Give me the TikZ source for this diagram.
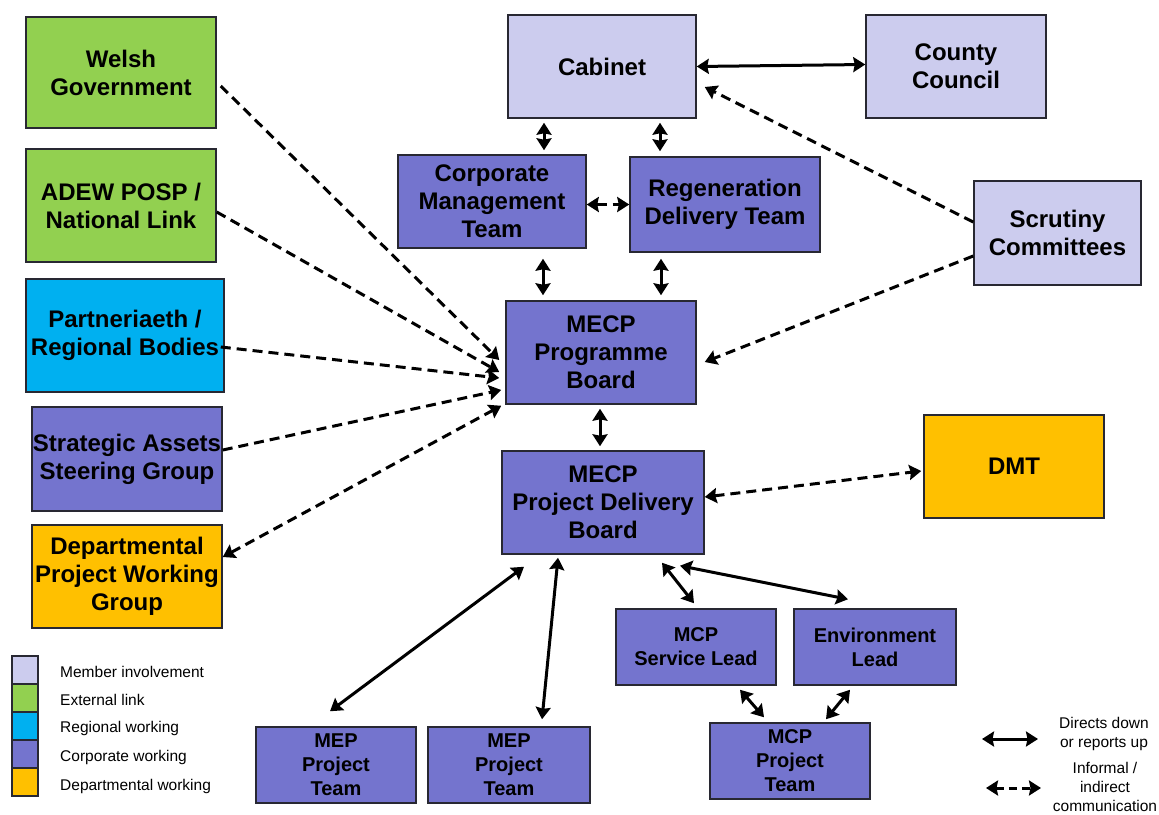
\documentclass[tikz,border=0pt]{standalone}
\usepackage{fontspec}
\setmainfont{Liberation Sans}
\usetikzlibrary{arrows.meta}
\definecolor{lav}{RGB}{204,204,238}
\definecolor{grn}{RGB}{146,208,80}
\definecolor{blu}{RGB}{0,176,240}
\definecolor{pur}{RGB}{116,116,206}
\definecolor{org}{RGB}{255,192,0}
\definecolor{edge}{RGB}{40,40,50}
\tikzset{
  box/.style={draw=edge, line width=1.5pt, inner sep=0pt, align=center,
    font=\fontsize{24}{28}\selectfont\bfseries},
  sbox/.style={box, font=\fontsize{20}{24}\selectfont\bfseries},
  tip/.style={},
  direct/.style={line width=3pt, {Stealth[length=12pt,width=15pt,inset=1.5pt]}-{Stealth[length=12pt,width=15pt,inset=1.5pt]}},
  informal/.style={line width=3pt, dash pattern=on 10pt off 6pt, -{Stealth[length=12pt,width=15pt,inset=1.5pt]}},
  informal2/.style={informal, {Stealth[length=12pt,width=15pt,inset=1.5pt]}-{Stealth[length=12pt,width=15pt,inset=1.5pt]}},
  key/.style={draw=edge, line width=1.5pt, minimum width=26pt, minimum height=28pt, inner sep=0pt},
  keytext/.style={anchor=west, inner sep=0pt, font=\fontsize{15.5}{18}\selectfont},
  keyr/.style={align=center, inner sep=0pt, font=\fontsize{15.5}{19}\selectfont}
}
\begin{document}
\begin{tikzpicture}[x=1pt,y=-1pt]
\useasboundingbox[fill=white] (0,0) rectangle (1159,814);
% left column
\node[box, fill=grn, minimum width=190pt, minimum height=111pt] (wg) at (121,72.5) {Welsh\\Government};
\node[box, fill=grn, minimum width=190pt, minimum height=113pt] (adew) at (121,205.5) {ADEW POSP /\\National Link};
\node[box, fill=blu, minimum width=198pt, minimum height=113pt] (part) at (125,335.5) {Partneriaeth /\\Regional Bodies};
\node[box, fill=pur, minimum width=190pt, minimum height=104pt] (sa) at (127,459) {Strategic Assets\\Steering Group};
\node[box, fill=org, minimum width=190pt, minimum height=103pt] (dpwg) at (127,576.5) {Departmental\\Project Working\\Group};
% top
\node[box, fill=lav, minimum width=188pt, minimum height=103pt] (cab) at (602,66.5) {Cabinet};
\node[box, fill=lav, minimum width=180pt, minimum height=103pt] (cc) at (956,66.5) {County\\Council};
\node[box, fill=pur, minimum width=188pt, minimum height=93pt] (cmt) at (492,201.5) {Corporate\\Management\\Team};
\node[box, fill=pur, minimum width=190pt, minimum height=95pt] (rdt) at (725,204.5) {Regeneration\\Delivery Team};
\node[box, fill=lav, minimum width=167pt, minimum height=104pt] (scr) at (1057.5,233) {Scrutiny\\Committees};
\node[box, fill=pur, minimum width=190pt, minimum height=103pt] (pb) at (601,352.5) {MECP\\Programme\\Board};
\node[box, fill=pur, minimum width=202pt, minimum height=103pt] (pdb) at (603,502.5) {MECP\\Project Delivery\\Board};
\node[box, fill=org, minimum width=180pt, minimum height=103pt] (dmt) at (1014,466.5) {DMT};
% bottom
\node[sbox, fill=pur, minimum width=160pt, minimum height=76pt] (sl) at (696,647) {MCP\\Service Lead};
\node[sbox, fill=pur, minimum width=162pt, minimum height=76pt] (env) at (875,647) {Environment\\Lead};
\node[sbox, fill=pur, minimum width=160pt, minimum height=76pt] (mep1) at (336,765) {MEP\\Project\\Team};
\node[sbox, fill=pur, minimum width=162pt, minimum height=76pt] (mep2) at (509,765) {MEP\\Project\\Team};
\node[sbox, fill=pur, minimum width=160pt, minimum height=76pt] (mcppt) at (790,761) {MCP\\Project\\Team};
% connectors
\draw[direct] (cab.east) -- ([yshift=2pt]cc.west);
\draw[direct] ([xshift=-58pt,yshift=-4pt]cab.south) -- ([xshift=52pt,yshift=4pt]cmt.north);
\draw[direct] ([xshift=58pt,yshift=-4pt]cab.south) -- ([xshift=-65pt,yshift=5pt]rdt.north);
\draw[informal2] ([yshift=-3pt]cmt.east) -- (rdt.west);
\draw[direct] ([xshift=51pt,yshift=-10pt]cmt.south) -- ([xshift=-58pt,yshift=5pt]pb.north);
\draw[direct] ([xshift=-64pt,yshift=-6pt]rdt.south) -- ([xshift=60pt,yshift=5pt]pb.north);
\draw[informal] ([yshift=11pt]scr.west) -- ([xshift=8pt,yshift=-20.5pt]cab.east);
\draw[informal] ([yshift=-23pt]scr.west) -- ([xshift=8pt,yshift=-9.5pt]pb.east);
\draw[informal] ([xshift=4pt,yshift=-13.5pt]wg.east) -- ([xshift=-6pt,yshift=-7.5pt]pb.west);
\draw[informal] ([yshift=-6.5pt]adew.east) -- ([xshift=-6pt,yshift=-19.5pt]pb.west);
\draw[informal] ([xshift=-4pt,yshift=-11.5pt]part.east) -- ([xshift=-6pt,yshift=-25.5pt]pb.west);
\draw[informal] ([yshift=9pt]sa.east) -- ([xshift=-4pt,yshift=-37.5pt]pb.west);
\draw[informal2] ([yshift=19.5pt]dpwg.east) -- ([xshift=-4pt,yshift=-1pt]pb.south west);
\draw[direct] ([xshift=-1pt,yshift=-4pt]pb.south) -- ([xshift=-3pt,yshift=4pt]pdb.north);
\draw[informal2] ([yshift=5.5pt]pdb.east) -- ([xshift=-2pt,yshift=-4.5pt]dmt.west);
\draw[direct] ([xshift=-79pt,yshift=-12pt]pdb.south) -- ([xshift=-6pt,yshift=15pt]mep1.north);
\draw[direct] ([xshift=-45pt,yshift=-3pt]pdb.south) -- ([xshift=33pt,yshift=7pt]mep2.north);
\draw[direct] ([xshift=59pt,yshift=-8pt]pdb.south) -- ([xshift=-2pt,yshift=5pt]sl.north);
\draw[direct] ([xshift=77pt,yshift=-11pt]pdb.south) -- ([xshift=-27pt,yshift=9pt]env.north);
\draw[direct] ([xshift=44pt,yshift=-4pt]sl.south) -- ([xshift=-26pt,yshift=5pt]mcppt.north);
\draw[direct] ([xshift=-25pt,yshift=-4pt]env.south) -- ([xshift=36pt,yshift=3pt]mcppt.north);
% legend left
\node[key, fill=lav] (k1) at (25,670) {};
\node[key, fill=grn] (k2) at (25,698) {};
\node[key, fill=blu] (k3) at (25,726) {};
\node[key, fill=pur] (k4) at (25,754) {};
\node[key, fill=org] (k5) at (25,782) {};
\node[keytext] (t1) at (60,672) {Member involvement};
\node[keytext] (t2) at (60,700) {External link};
\node[keytext] (t3) at (60,728) {Regional working};
\node[keytext] (t4) at (60,757) {Corporate working};
\node[keytext] (t5) at (60,786) {Departmental working};
% legend right
\coordinate (la1) at (982,739);
\coordinate (la2) at (1038,739);
\coordinate (lb1) at (986,788);
\coordinate (lb2) at (1041,788);
\draw[direct] (la1) -- (la2);
\draw[informal2, dash pattern=on 8pt off 5pt] (lb1) -- (lb2);
\node[keyr] (r1) at (1104,734) {Directs down\\or reports up};
\node[keyr] (r2) at (1105,787) {Informal /\\indirect\\communication};
\end{tikzpicture}
\end{document}
